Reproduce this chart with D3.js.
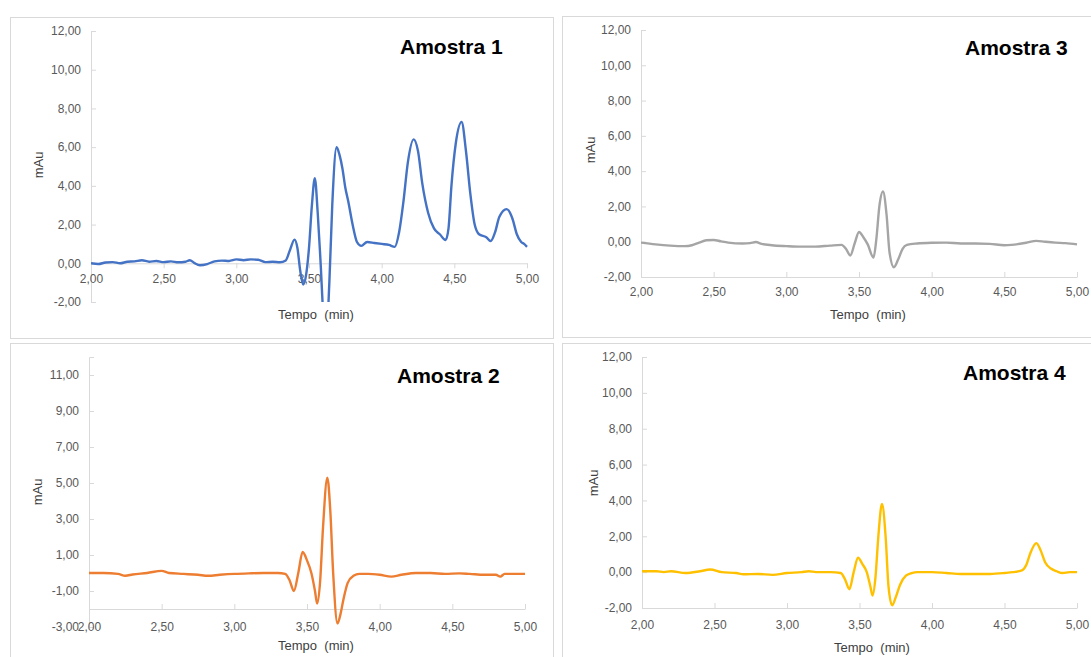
<!DOCTYPE html>
<html>
<head>
<meta charset="utf-8">
<script src="https://cdn.jsdelivr.net/npm/d3@7"></script>
<style>
    body { margin: 0; background: #fff; }
    text { font-family: "Liberation Sans", Arial, sans-serif; white-space: pre; }
</style>
</head>
<body>
<div class="canvas"></div>
<script>
//##DATA START
const tempo1 = [2.00, 2.05, 2.10, 2.15, 2.20, 2.25, 2.30, 2.35, 2.40, 2.45, 2.50, 2.55, 2.60, 2.65, 2.68, 2.71, 2.75, 2.80, 2.85, 2.90,
    2.95, 3.00, 3.05, 3.10, 3.15, 3.20, 3.25, 3.30, 3.34, 3.37, 3.40, 3.42, 3.44, 3.46, 3.48, 3.50, 3.52, 3.54, 3.56, 3.58,
    3.60, 3.62, 3.64, 3.66, 3.69, 3.71, 3.73, 3.75, 3.77, 3.80, 3.83, 3.86, 3.90, 3.95, 4.00, 4.05, 4.09, 4.12, 4.15, 4.18,
    4.22, 4.25, 4.28, 4.32, 4.36, 4.40, 4.44, 4.46, 4.48, 4.51, 4.55, 4.58, 4.61, 4.64, 4.67, 4.72, 4.75, 4.78, 4.81, 4.86,
    4.90, 4.93, 4.96, 4.98, 5.00];
const amostra1 = [0.00, -0.04, 0.04, 0.06, 0.00, 0.08, 0.10, 0.16, 0.08, 0.12, 0.06, 0.10, 0.05, 0.08, 0.16, 0.02, -0.10, -0.04, 0.10, 0.14,
    0.12, 0.20, 0.16, 0.20, 0.18, 0.06, 0.08, 0.05, 0.15, 0.70, 1.22, 0.80, -0.40, -1.10, -0.60, 0.80, 3.00, 4.40, 2.60, 0.00,
    -2.80, -3.60, -1.00, 3.00, 6.00, 5.60, 4.90, 3.90, 3.20, 2.00, 1.10, 0.90, 1.10, 1.05, 1.00, 0.95, 0.85, 1.60, 3.20, 5.20,
    6.40, 5.80, 4.10, 2.60, 1.80, 1.50, 1.20, 1.80, 4.00, 6.20, 7.30, 5.80, 3.60, 2.00, 1.50, 1.35, 1.15, 1.60, 2.40, 2.80,
    2.30, 1.50, 1.10, 1.00, 0.85];

const tempo2 = [2.00, 2.10, 2.20, 2.25, 2.30, 2.40, 2.50, 2.55, 2.65, 2.75, 2.82, 2.90, 3.00, 3.10, 3.20, 3.30, 3.35, 3.38, 3.41, 3.44,
    3.47, 3.50, 3.53, 3.555, 3.57, 3.59, 3.61, 3.64, 3.66, 3.68, 3.71, 3.73, 3.75, 3.78, 3.82, 3.86, 3.92, 4.00, 4.08, 4.15,
    4.25, 4.35, 4.45, 4.55, 4.62, 4.72, 4.80, 4.83, 4.86, 4.92, 5.00];
const amostra2 = [0.00, 0.00, -0.05, -0.15, -0.08, 0.00, 0.12, 0.00, -0.05, -0.10, -0.15, -0.10, -0.05, -0.02, 0.00, 0.00, -0.05, -0.40, -1.00, 0.00,
    1.17, 0.70, 0.00, -1.00, -1.70, -0.50, 2.50, 5.30, 3.50, 0.00, -2.80, -2.30, -1.50, -0.55, -0.15, -0.05, -0.05, -0.10, -0.20, -0.10,
    0.00, 0.00, -0.05, -0.02, -0.05, -0.10, -0.10, -0.20, -0.05, -0.05, -0.05];

const tempo3 = [2.00, 2.10, 2.20, 2.30, 2.35, 2.40, 2.45, 2.50, 2.55, 2.60, 2.70, 2.75, 2.79, 2.83, 2.90, 3.00, 3.10, 3.20, 3.30, 3.38,
    3.41, 3.44, 3.47, 3.50, 3.53, 3.56, 3.60, 3.62, 3.64, 3.665, 3.69, 3.71, 3.74, 3.77, 3.80, 3.83, 3.90, 4.00, 4.10, 4.20,
    4.30, 4.40, 4.50, 4.55, 4.65, 4.72, 4.78, 4.85, 4.92, 5.00];
const amostra3 = [-0.05, -0.15, -0.22, -0.25, -0.20, -0.05, 0.08, 0.10, 0.02, -0.05, -0.10, -0.08, -0.02, -0.12, -0.20, -0.25, -0.28, -0.28, -0.22, -0.18,
    -0.40, -0.78, -0.10, 0.55, 0.25, -0.15, -0.90, 0.20, 2.00, 2.85, 1.50, -0.60, -1.45, -1.00, -0.40, -0.18, -0.10, -0.06, -0.05, -0.10,
    -0.10, -0.12, -0.20, -0.18, -0.06, 0.05, 0.00, -0.05, -0.08, -0.15];

const tempo4 = [2.00, 2.10, 2.15, 2.20, 2.30, 2.40, 2.47, 2.55, 2.65, 2.70, 2.80, 2.90, 3.00, 3.10, 3.15, 3.20, 3.30, 3.37, 3.40, 3.43,
    3.46, 3.49, 3.52, 3.55, 3.575, 3.59, 3.61, 3.63, 3.655, 3.68, 3.70, 3.725, 3.75, 3.78, 3.82, 3.86, 3.90, 4.00, 4.10, 4.20,
    4.30, 4.40, 4.50, 4.56, 4.62, 4.65, 4.68, 4.72, 4.75, 4.78, 4.82, 4.86, 4.90, 4.95, 5.00];
const amostra4 = [0.05, 0.05, 0.00, 0.05, -0.05, 0.05, 0.15, 0.00, -0.05, -0.12, -0.10, -0.15, -0.05, 0.00, 0.05, 0.00, 0.00, -0.05, -0.40, -0.95,
    0.00, 0.80, 0.45, 0.00, -0.80, -1.30, -0.30, 2.00, 3.80, 2.00, -0.80, -1.85, -1.40, -0.70, -0.20, -0.05, 0.00, 0.00, -0.05, -0.10,
    -0.10, -0.10, -0.05, 0.00, 0.10, 0.40, 1.10, 1.62, 1.20, 0.55, 0.20, 0.05, -0.05, 0.00, 0.00];

const xTicks = [2.0, 2.5, 3.0, 3.5, 4.0, 4.5, 5.0];
const yTicksPar = [-2, 0, 2, 4, 6, 8, 10, 12];
const yTicksImpar = [-3, -1, 1, 3, 5, 7, 9, 11];
//##DATA END

const width = 1091, height = 657;
const svg = d3.select('.canvas')
    .append('svg')
    .attr('width', width)
    .attr('height', height)
    ;

// layout of each chart box (positions only)
const panels = [
    { title: 'Amostra 1', t: tempo1, v: amostra1, color: '#4472C4', yTicks: yTicksPar, yDomain: [-2, 12], xAt: 0, tickDir: 1,
      box: [10, 17, 543, 321], xr: [91, 527], yr: [302, 31], titleX: 400, titleY: 54, xLabY: 279, tempo: [316, 314], mau: [38, 165] },
    { title: 'Amostra 3', t: tempo3, v: amostra3, color: '#A5A5A5', yTicks: yTicksPar, yDomain: [-2, 12], xAt: -2, tickDir: -1,
      box: [562, 16, 560, 321], xr: [641, 1077], yr: [277, 30], titleX: 965, titleY: 55, xLabY: 292, tempo: [868, 314], mau: [590, 150] },
    { title: 'Amostra 2', t: tempo2, v: amostra2, color: '#ED7D31', yTicks: yTicksImpar, yDomain: [-3, 12], xAt: -2, tickDir: -1,
      box: [10, 343, 543, 340], xr: [89, 525], yr: [627, 357], titleX: 397, titleY: 383, xLabY: 627, tempo: [316, 645], mau: [37, 492] },
    { title: 'Amostra 4', t: tempo4, v: amostra4, color: '#FFC000', yTicks: yTicksPar, yDomain: [-2, 12], xAt: -2, tickDir: -1,
      box: [562, 343, 560, 340], xr: [642, 1077], yr: [608, 357], titleX: 963, titleY: 380, xLabY: 625, tempo: [872, 647], mau: [593, 483] }
];

let fmt = (d) => d.toFixed(2).replace('.', ',');

panels.forEach((p, i) => {
    const g = svg.append('g').attr('class', 'panel');

    g.append('rect')
        .attr('x', p.box[0] + 0.5)
        .attr('y', p.box[1] + 0.5)
        .attr('width', p.box[2])
        .attr('height', p.box[3])
        .attr('fill', '#fff')
        .attr('stroke', '#d9d9d9')
        ;

    const xScale = d3.scaleLinear().domain([2, 5]).range(p.xr);
    const yScale = d3.scaleLinear().domain(p.yDomain).range(p.yr);

    // y axis: line + inside ticks + labels
    const yAxis = d3.axisLeft(yScale)
        .tickValues(p.yTicks)
        .tickSize(-5)
        .tickPadding(10)
        .tickFormat(fmt);
    g.append('g')
        .attr('transform', `translate(${p.xr[0]},0)`)
        .call(yAxis)
        .call(a => a.select('.domain').attr('stroke', '#d9d9d9'))
        .call(a => a.selectAll('.tick line').attr('stroke', '#d9d9d9'))
        .call(a => a.selectAll('.tick text')
            .attr('fill', '#595959')
            .style('font-size', '12px')
            .style('font-family', '"Liberation Sans", Arial, sans-serif'))
        ;

    // x axis line where the chart crosses
    const xAxis = d3.axisBottom(xScale)
        .tickValues(xTicks)
        .tickSize(5 * p.tickDir)
        .tickSizeOuter(0)
        .tickFormat(fmt);
    const yAxisPos = yScale(p.xAt);
    const gx = g.append('g')
        .attr('transform', `translate(0,${yAxisPos})`)
        .call(xAxis)
        .call(a => a.select('.domain').attr('stroke', '#d9d9d9'))
        .call(a => a.selectAll('.tick line').attr('stroke', '#d9d9d9'))
        ;
    gx.selectAll('.tick text')
        .attr('y', p.xLabY - yAxisPos)
        .attr('dy', '0.35em')
        .attr('fill', '#595959')
        .style('font-size', '12px')
        .style('font-family', '"Liberation Sans", Arial, sans-serif');

    // the trace
    g.append('clipPath')
        .attr('id', `clip${i}`)
        .append('rect')
        .attr('x', p.xr[0])
        .attr('y', p.yr[1])
        .attr('width', p.xr[1] - p.xr[0] + 2)
        .attr('height', p.yr[0] - p.yr[1]);

    const line = d3.line()
        .x((d) => xScale(d[0]))
        .y((d) => yScale(d[1]))
        .curve(d3.curveMonotoneX);

    g.append('path')
        .datum(d3.zip(p.t, p.v))
        .attr('clip-path', `url(#clip${i})`)
        .attr('d', line)
        .attr('fill', 'none')
        .attr('stroke', p.color)
        .attr('stroke-width', 2.4)
        .attr('stroke-linejoin', 'round')
        ;

    // texts
    g.append('text')
        .attr('x', p.titleX)
        .attr('y', p.titleY)
        .style('font-size', '21px')
        .style('font-weight', 'bold')
        .attr('fill', '#000')
        .text(p.title);

    g.append('text')
        .attr('x', p.tempo[0])
        .attr('y', p.tempo[1])
        .attr('dy', '0.35em')
        .attr('text-anchor', 'middle')
        .style('font-size', '13px')
        .attr('fill', '#404040')
        .text('Tempo  (min)');

    g.append('text')
        .attr('transform', `translate(${p.mau[0]},${p.mau[1]}) rotate(-90)`)
        .attr('dy', '0.35em')
        .attr('text-anchor', 'middle')
        .style('font-size', '13px')
        .attr('fill', '#404040')
        .text('mAu');
});
</script>
</body>
</html>
